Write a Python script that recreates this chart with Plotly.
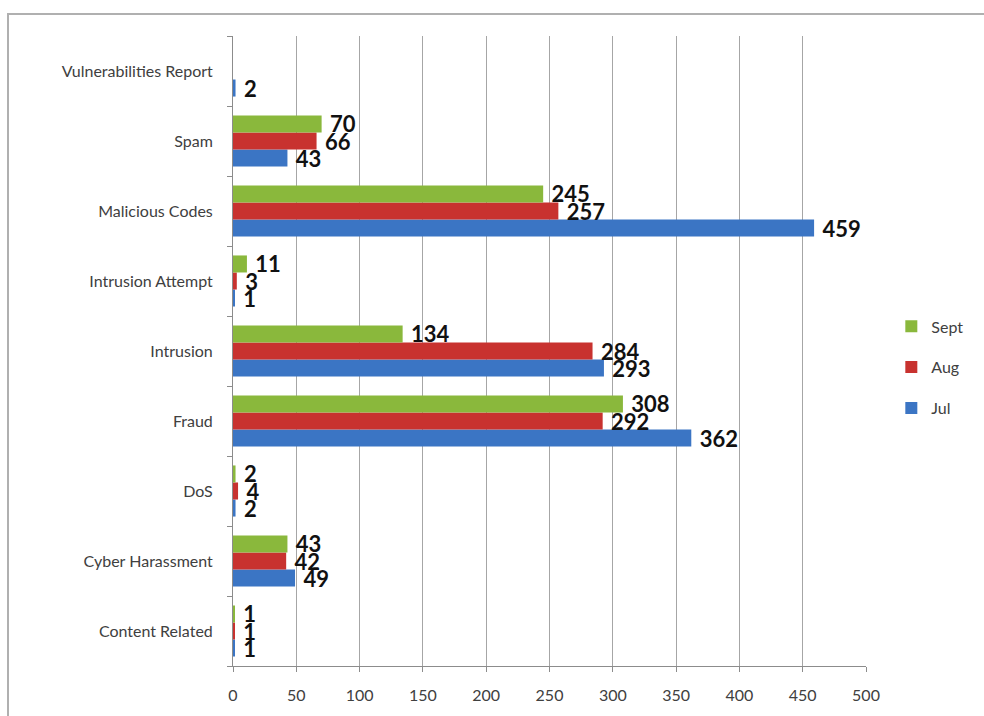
import plotly.graph_objects as go

categories = ["Content Related", "Cyber Harassment", "DoS", "Fraud", "Intrusion",
              "Intrusion Attempt", "Malicious Codes", "Spam", "Vulnerabilities Report"]
jul = [1, 49, 2, 362, 293, 1, 459, 43, 2]
aug = [1, 42, 4, 292, 284, 3, 257, 66, 0]
sept = [1, 43, 2, 308, 134, 11, 245, 70, 0]
series_names = ["Jul", "Aug", "Sept"]
series_values = [jul, aug, sept]
legend_ranks = [3, 2, 1]
colors = ["#3b75c4", "#c8322f", "#8ab83c"]
x_ticks = [0, 50, 100, 150, 200, 250, 300, 350, 400, 450, 500]

FONT = "Lato, 'Open Sans', sans-serif"

fig = go.Figure()
for name, vals, col, rank in zip(series_names, series_values, colors, legend_ranks):
    fig.add_trace(go.Bar(
        y=categories, x=vals, name=name, orientation="h",
        marker=dict(color=col, line=dict(width=0)),
        text=[" " + str(v) if v else "" for v in vals],
        textposition="outside", constraintext="none", cliponaxis=False,
        textfont=dict(family=FONT, size=22, color="#111111", weight="bold"),
        legendgroup=name, legendrank=rank,
    ))

fig.update_layout(
    width=984, height=716,
    margin=dict(l=233, r=118, t=36, b=47),
    barmode="group", bargap=0.27, bargroupgap=0,
    plot_bgcolor="white", paper_bgcolor="white",
    font=dict(family=FONT, size=16, color="#404040"),
    showlegend=True,
    legend=dict(x=1.04, y=0.474, xanchor="left", yanchor="middle",
                traceorder="grouped", tracegroupgap=17,
                font=dict(family=FONT, size=16, color="#404040"),
                itemwidth=30),
    xaxis=dict(range=[0, 500], tickvals=x_ticks, showgrid=True,
               gridcolor="#a6a6a6", gridwidth=1, showline=True,
               linecolor="#8c8c8c", ticks="outside", ticklen=5,
               tickcolor="#8c8c8c", zeroline=False, ticklabelstandoff=10,
               tickfont=dict(family=FONT, size=16, color="#404040")),
    yaxis=dict(categoryorder="array", categoryarray=categories,
               showline=True, linecolor="#8c8c8c", ticks="outside",
               ticklen=5, tickcolor="#8c8c8c", tickson="boundaries",
               showgrid=False, ticklabelstandoff=16,
               tickfont=dict(family=FONT, size=16, color="#404040")),
    shapes=[dict(type="rect", xref="paper", yref="paper",
                 x0=-233 / 633 + 8 / 633, x1=1.3, y0=-0.2, y1=1 + 22 / 633,
                 line=dict(color="#b0b0b0", width=2), layer="below")],
)

fig.write_html("out.html")
